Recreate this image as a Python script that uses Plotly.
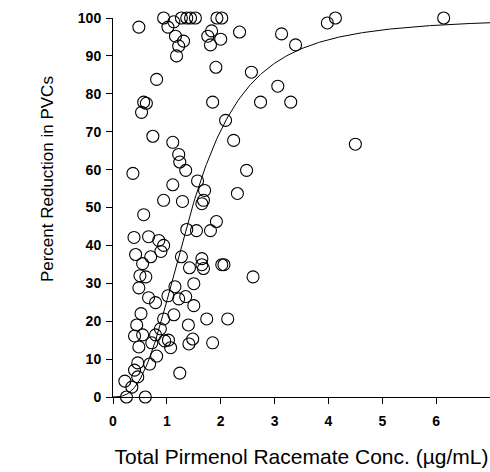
import numpy as np
import plotly.graph_objects as go

conc = [0.94, 1.27, 1.37, 1.44, 1.53, 1.93, 2.02, 4.13, 3.98, 6.14,
        0.48, 1.02, 1.13, 1.16, 1.31, 1.22, 1.18, 1.83, 1.76, 2.00, 1.81, 2.35, 3.13, 3.39,
        1.91, 2.57, 0.81, 3.06, 3.30, 2.74, 1.85, 0.62, 0.57, 0.53, 2.09, 0.74, 2.24, 1.11,
        1.22, 1.24, 1.35, 2.48, 0.37, 1.11, 1.57, 1.70, 2.31, 4.50,
        0.94, 1.29, 1.65, 1.68, 0.57, 1.92, 1.37, 1.55, 1.81, 0.39, 0.66, 0.85, 0.94, 0.89,
        0.42, 0.70, 0.55, 1.27, 1.65, 1.65, 1.68, 1.42, 2.02, 2.06, 2.60, 0.50, 0.61, 0.48,
        1.15, 1.50, 1.02, 1.22, 1.35, 0.66, 0.79, 1.50, 0.52, 0.94, 1.13, 1.74, 2.13, 0.44,
        1.40, 0.88, 0.40, 0.55, 0.79, 0.96, 1.03, 1.48, 0.72, 1.41, 1.85, 0.48, 1.07, 0.81,
        0.46, 0.68, 0.40, 0.46, 1.24, 0.22, 0.35, 0.25, 0.60]
reduction = [100, 100, 100, 100, 100, 100, 100, 100, 98.7, 100,
             97.6, 97.6, 99.0, 95.2, 93.9, 92.6, 90.0, 96.6, 95.2, 94.4, 92.9, 96.3, 95.8, 92.9,
             87.0, 85.7, 83.8, 82.0, 77.8, 77.8, 77.8, 77.5, 77.8, 75.1, 73.0, 68.8, 67.7, 67.2,
             64.0, 62.0, 59.8, 59.8, 59.0, 56.0, 57.0, 54.5, 53.7, 66.7,
             51.9, 51.6, 51.0, 51.9, 48.1, 46.3, 44.2, 43.9, 43.9, 42.1, 42.3, 41.3, 40.0, 38.4,
             37.6, 37.0, 35.2, 37.0, 36.5, 34.9, 33.9, 34.1, 34.9, 34.9, 31.7, 32.0, 31.7, 28.8,
             29.1, 29.9, 26.7, 25.9, 26.5, 26.2, 24.9, 24.1, 22.0, 20.6, 21.7, 20.6, 20.6, 19.0,
             19.0, 18.0, 16.1, 16.4, 16.4, 14.8, 15.0, 15.3, 14.3, 14.0, 14.3, 13.2, 13.0, 10.8,
             9.0, 8.7, 7.1, 5.3, 6.3, 4.2, 2.6, 0.0, 0.0]

# Fitted Emax (Hill) model parameters
EMAX = 100.0
EC50 = 1.47
HILL = 2.8

x_ticks = [0, 1, 2, 3, 4, 5, 6, 7]
y_ticks = [0, 10, 20, 30, 40, 50, 60, 70, 80, 90, 100]

xc = np.linspace(0.0, 7.0, 300)
yc = EMAX * xc**HILL / (EC50**HILL + xc**HILL)

fig = go.Figure()
fig.add_trace(go.Scatter(x=xc, y=yc, mode="lines",
                         line=dict(color="black", width=1), cliponaxis=False,
                         hoverinfo="skip", showlegend=False))
fig.add_trace(go.Scatter(x=conc, y=reduction, mode="markers", cliponaxis=False,
                         marker=dict(symbol="circle-open", size=12,
                                     color="black", line=dict(width=1.1, color="black")),
                         showlegend=False))

font_fam = "Arial, Liberation Sans, sans-serif"
fig.update_layout(
    width=490, height=472,
    margin=dict(l=113, r=0, t=18, b=75),
    paper_bgcolor="white", plot_bgcolor="white",
    font=dict(family=font_fam, color="black"),
    showlegend=False,
    annotations=[dict(text="Percent Reduction in PVCs", textangle=-90,
                      xref="paper", yref="y", x=-0.175, y=57.5,
                      xanchor="center", yanchor="middle", showarrow=False,
                      font=dict(size=17, family=font_fam, color="black"))],
)
fig.update_xaxes(range=[0, 7], tickvals=x_ticks, ticktext=[str(v) for v in x_ticks],
                 showgrid=False, zeroline=False, showline=True, linecolor="black",
                 linewidth=1, ticks="outside", ticklen=6, tickcolor="black",
                 ticklabelstandoff=5,
                 tickfont=dict(size=14, family=font_fam, weight="bold"),
                 title=dict(text="Total Pirmenol Racemate Conc. (µg/mL)",
                            font=dict(size=21, family=font_fam), standoff=21))
fig.update_yaxes(range=[0, 100], tickvals=y_ticks, ticktext=[str(v) for v in y_ticks],
                 showgrid=False, zeroline=False, showline=True, linecolor="black",
                 linewidth=1, ticks="outside", ticklen=6, tickcolor="black",
                 ticklabelstandoff=2,
                 tickfont=dict(size=14, family=font_fam, weight="bold"))

fig.write_html("out.html")
